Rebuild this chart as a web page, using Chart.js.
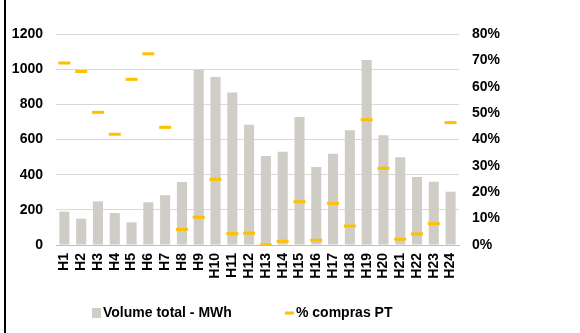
<!DOCTYPE html>
<html>
<head>
<meta charset="utf-8">
<script src="https://cdn.jsdelivr.net/npm/chart.js@4"></script>
<style>
html,body{margin:0;padding:0;background:#fff;}
#wrap{position:relative;width:580px;height:333px;}
</style>
</head>
<body>
<div id="wrap"><canvas id="c" width="580" height="333"></canvas></div>
<script>
const categories = ["H1","H2","H3","H4","H5","H6","H7","H8","H9","H10","H11","H12","H13","H14","H15","H16","H17","H18","H19","H20","H21","H22","H23","H24"];
const volumeMWh = [190,150,248,182,129,243,283,358,995,955,868,684,506,531,728,444,519,652,1052,624,499,387,360,303];
const pctComprasPT = [69.0,65.8,50.3,42.0,62.8,72.5,44.6,5.9,10.5,24.9,4.3,4.5,0.0,1.4,16.4,1.8,15.8,7.2,47.5,29.1,2.2,4.2,8.1,46.4];
const leftTicks = [0,200,400,600,800,1000,1200];
const rightTicks = [0,10,20,30,40,50,60,70,80];

const FONT = "'Liberation Sans', Arial, sans-serif";
const FSIZE = 14;
const BAR_COLOR = '#D0CCC6';
const MARK_COLOR = '#FFC000';

const framePlugin = {
  id: 'frame',
  beforeDraw(chart) {
    const ctx = chart.ctx;
    ctx.save();
    ctx.fillStyle = '#fff';
    ctx.fillRect(0, 0, chart.width, chart.height);
    ctx.fillStyle = '#000';
    ctx.fillRect(4, 0, 2, chart.height);
    ctx.restore();
  }
};

const legendPlugin = {
  id: 'customLegend',
  afterDraw(chart) {
    const ctx = chart.ctx;
    const ds = chart.data.datasets;
    ctx.save();
    ctx.font = "bold " + FSIZE + "px " + FONT;
    ctx.textBaseline = 'middle';
    const y = 313;
    ctx.fillStyle = ds[0].backgroundColor;
    ctx.fillRect(92, y - 5, 9, 10);
    ctx.fillStyle = '#000';
    ctx.fillText(ds[0].label, 103, y);
    ctx.strokeStyle = ds[1].borderColor;
    ctx.lineWidth = 3;
    ctx.beginPath();
    ctx.moveTo(285, y);
    ctx.lineTo(294, y);
    ctx.stroke();
    ctx.fillText(ds[1].label, 296, y);
    ctx.restore();
  }
};

new Chart(document.getElementById('c'), {
  type: 'bar',
  data: {
    labels: categories,
    datasets: [
      {
        type: 'bar',
        label: 'Volume total - MWh',
        data: volumeMWh,
        backgroundColor: BAR_COLOR,
        borderWidth: 0,
        barPercentage: 0.6,
        categoryPercentage: 1.0,
        yAxisID: 'y',
        order: 2
      },
      {
        type: 'line',
        label: '% compras PT',
        data: pctComprasPT,
        showLine: false,
        pointStyle: 'line',
        pointRadius: 6,
        pointHoverRadius: 6,
        pointBorderWidth: 3,
        borderColor: MARK_COLOR,
        backgroundColor: MARK_COLOR,
        pointBorderColor: MARK_COLOR,
        yAxisID: 'y1',
        order: 1
      }
    ]
  },
  options: {
    responsive: false,
    animation: false,
    devicePixelRatio: 1,
    layout: { padding: { left: 0, right: 0, top: 34, bottom: 48 } },
    plugins: {
      legend: { display: false },
      title: { display: false },
      tooltip: { enabled: false }
    },
    scales: {
      x: {
        grid: { display: false, drawTicks: false },
        border: { display: true, color: '#BFBFBF', width: 1 },
        ticks: {
          color: '#000',
          font: { family: FONT, size: FSIZE, weight: 'bold' },
          maxRotation: 90,
          minRotation: 90,
          autoSkip: false,
          padding: 8
        },
        afterFit(s) { s.height = 40; }
      },
      y: {
        position: 'left',
        min: 0,
        max: 1200,
        afterBuildTicks(s) { s.ticks = leftTicks.map(v => ({ value: v })); },
        grid: { color: '#D9D9D9', drawTicks: false },
        border: { display: false },
        ticks: {
          color: '#000',
          font: { family: FONT, size: FSIZE, weight: 'bold' },
          padding: 13,
          callback: v => String(v)
        },
        afterFit(s) { s.width = 56; }
      },
      y1: {
        position: 'right',
        min: 0,
        max: 80,
        afterBuildTicks(s) { s.ticks = rightTicks.map(v => ({ value: v })); },
        grid: { display: false, drawTicks: false },
        border: { display: false },
        ticks: {
          color: '#000',
          font: { family: FONT, size: FSIZE, weight: 'bold' },
          padding: 13,
          callback: v => v + '%'
        },
        afterFit(s) { s.width = 121; }
      }
    }
  },
  plugins: [framePlugin, legendPlugin]
});
</script>
</body>
</html>
